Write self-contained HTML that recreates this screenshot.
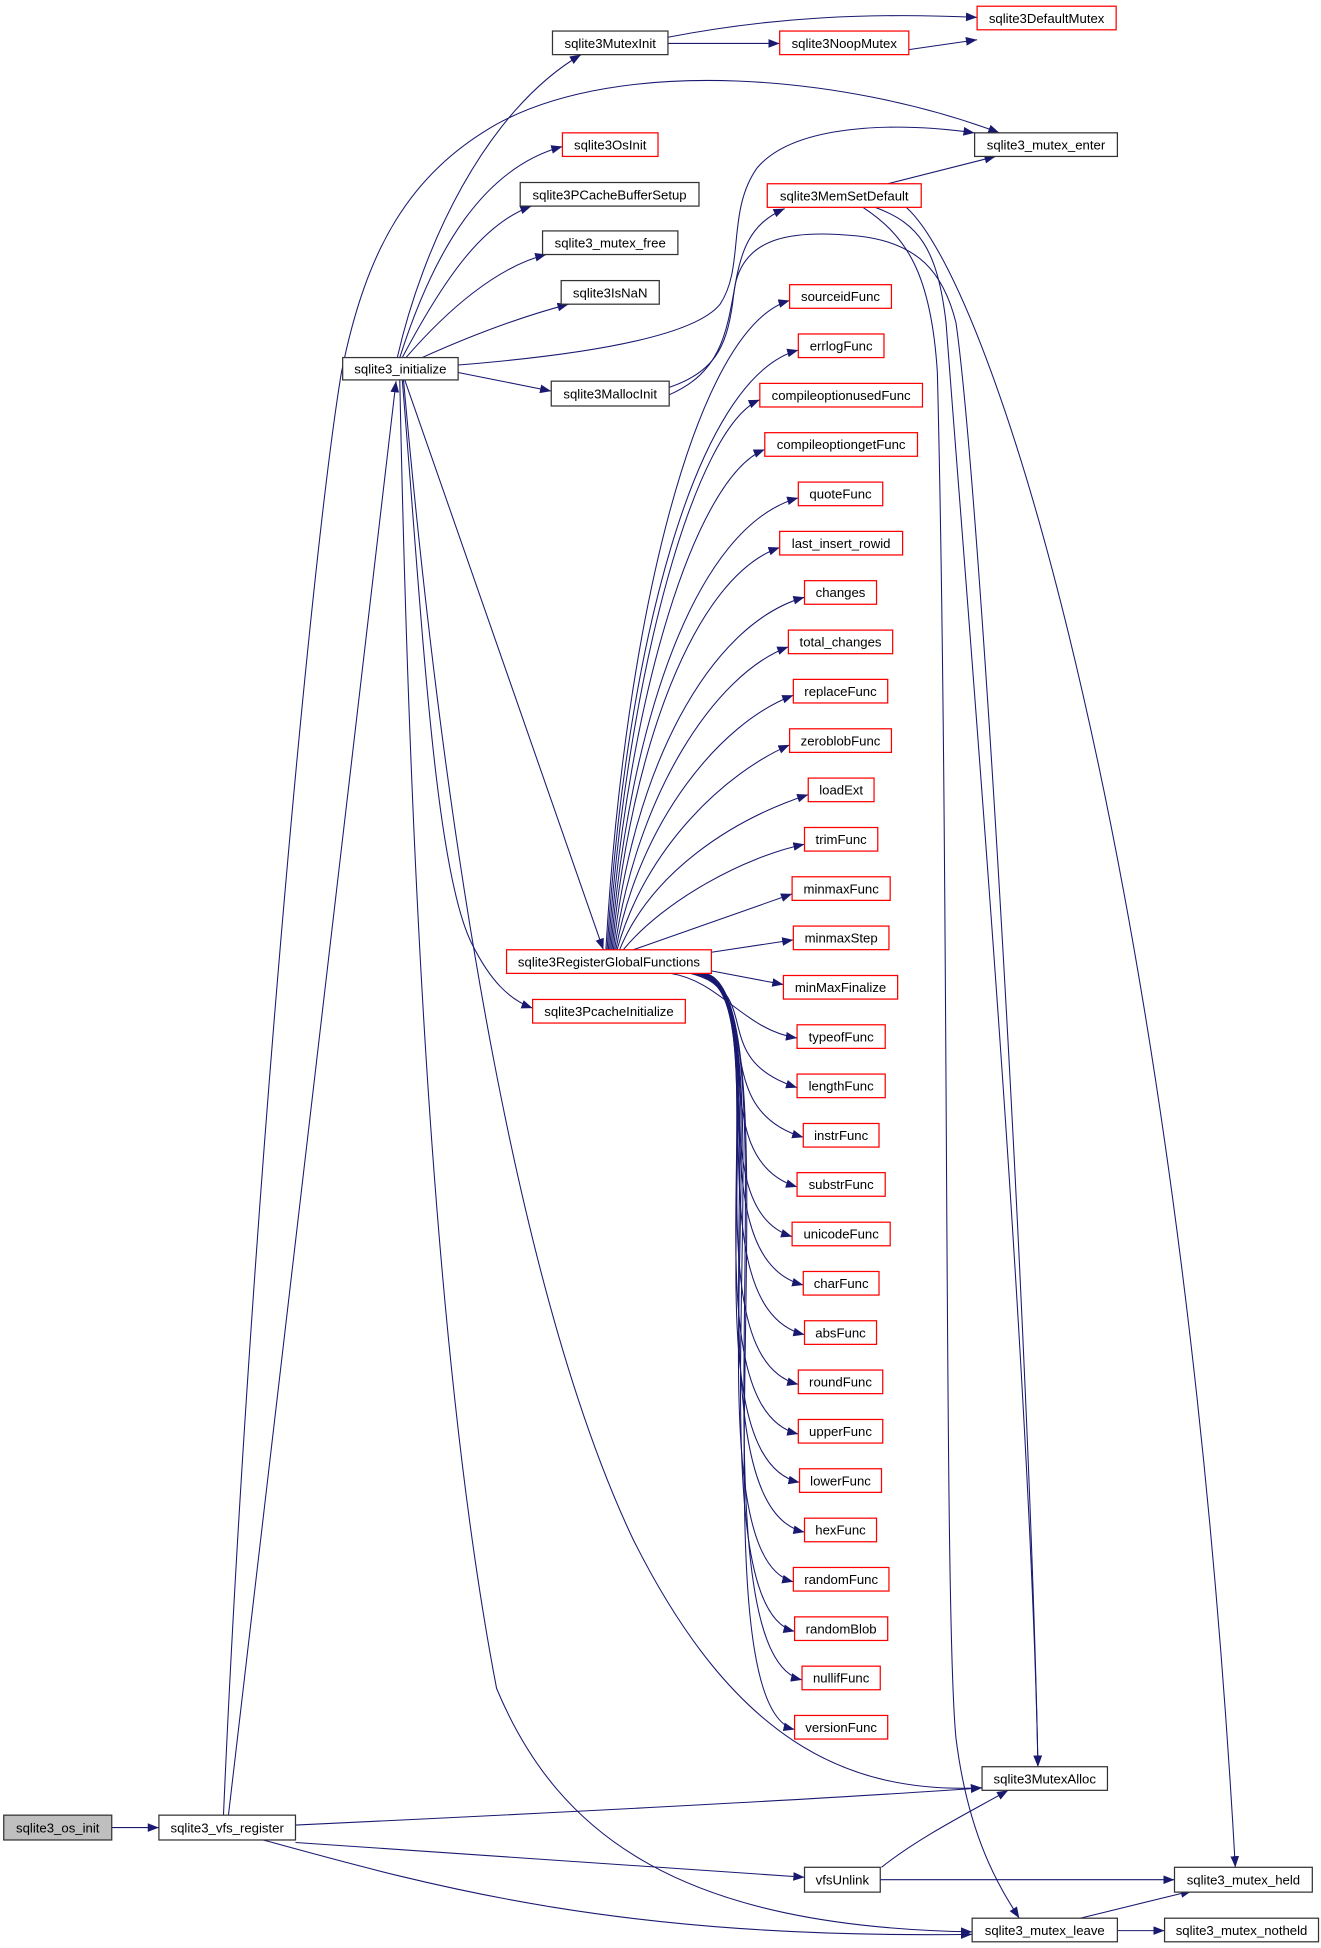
<!DOCTYPE html>
<html><head><meta charset="utf-8"><style>
html,body{margin:0;padding:0;background:#fff;}
svg{display:block;}
text{font-family:"Liberation Sans",Arial,sans-serif;font-size:10.6px;fill:#000;text-anchor:middle;}
.b{fill:#fff;stroke:#333;stroke-width:1;}
.r{fill:#fff;stroke:#f00;stroke-width:1;}
.g{fill:#bfbfbf;stroke:#333;stroke-width:1;}
.e{fill:none;stroke:#191970;stroke-width:0.85;marker-end:url(#a);}
</style></head><body>
<svg width="1321" height="1948" viewBox="0 0 1064 1569" preserveAspectRatio="none" xmlns="http://www.w3.org/2000/svg">
<defs><marker id="a" markerWidth="10" markerHeight="8" refX="9" refY="3.5" orient="auto" markerUnits="userSpaceOnUse"><path d="M0,0 L9,3.5 L0,7 z" fill="#191970"/></marker></defs>

<path class="e" d="M90,1472 L128,1472"/>
<path class="e" d="M184,1462 L319,307"/>
<path class="e" d="M180,1462 C200,1000 250,450 275,300 C295,200 330,140 400,100 C500,45 680,60 805,107"/>
<path class="e" d="M238,1470 C450,1460 650,1450 791,1440"/>
<path class="e" d="M238,1484 C400,1495 550,1505 648,1512"/>
<path class="e" d="M212,1482 C350,1520 500,1562 783,1558"/>

<path class="e" d="M320,288 C340,200 390,90 468,44"/>
<path class="e" d="M322,288 C350,200 390,135 453,118"/>
<path class="e" d="M324,288 C360,220 390,180 428,166"/>
<path class="e" d="M327,288 C360,250 400,215 440,205"/>
<path class="e" d="M340,288 C380,270 420,255 458,245"/>
<path class="e" d="M369,294 C480,285 560,270 580,245 C600,215 585,170 610,135 C640,100 720,98 785,107"/>
<path class="e" d="M369,300 L444,315"/>
<path class="e" d="M326,306 L486,765"/>
<path class="e" d="M324,306 C340,500 350,700 380,760 C395,790 410,805 429,812"/>
<path class="e" d="M325,306 C360,700 420,1050 510,1240 C590,1400 680,1445 791,1440"/>
<path class="e" d="M322,306 C330,700 350,1100 400,1360 C450,1480 550,1552 783,1556"/>

<path class="e" d="M538,30 C620,14 700,10 787,14"/>
<path class="e" d="M538,35 L628,35"/>
<path class="e" d="M732,40 L787,32"/>

<path class="e" d="M539,312 C575,300 585,280 590,245 C595,200 605,180 632,168"/>
<path class="e" d="M539,318 C580,300 585,270 592,230 C600,190 640,185 690,190 C740,195 760,220 770,260 C790,400 830,1100 836,1423"/>
<path class="e" d="M705,167 C740,180 755,200 762,260 C780,500 830,1100 836,1423"/>
<path class="e" d="M695,167 C730,190 750,220 755,300 C765,700 760,1300 770,1400 C780,1480 805,1520 821,1545"/>
<path class="e" d="M730,167 C800,230 950,700 995,1504"/>
<path class="e" d="M715,148 L802,126"/>

<path class="e" d="M709,1514 L946,1514"/>
<path class="e" d="M710,1504 C740,1480 780,1460 812,1442"/>
<path class="e" d="M870,1545 L960,1523"/>
<path class="e" d="M900,1555 L938,1555"/>

<path class="e" d="M488,765 C503,502 560,264 636,242"/>
<path class="e" d="M489,765 C504,522 560,304 643,282"/>
<path class="e" d="M490,765 C505,542 560,344 612,322"/>
<path class="e" d="M491,765 C506,562 560,384 616,362"/>
<path class="e" d="M492,765 C507,582 560,424 643,401"/>
<path class="e" d="M493,765 C508,602 560,464 628,441"/>
<path class="e" d="M494,765 C509,622 570,503 648,481"/>
<path class="e" d="M495,765 C512,642 575,543 635,521"/>
<path class="e" d="M496,765 C515,662 580,582 639,560"/>
<path class="e" d="M497,765 C520,682 585,622 636,600"/>
<path class="e" d="M499,765 C525,702 590,660 651,640"/>
<path class="e" d="M502,765 C535,725 600,690 648,680"/>
<path class="e" d="M510,765 L638,720"/>
<path class="e" d="M573,767 L639,757"/>
<path class="e" d="M573,782 L631,793"/>
<path class="e" d="M540,784 C580,790 600,830 642,836"/>
<path class="e" d="M556,784 C618,800 568,852 642,876"/>
<path class="e" d="M558,784 C620,800 566,892 647,916"/>
<path class="e" d="M560,784 C622,800 564,932 642,956"/>
<path class="e" d="M561,784 C624,800 562,972 638,996"/>
<path class="e" d="M562,784 C626,800 558,1012 647,1035"/>
<path class="e" d="M563,784 C628,800 554,1052 648,1075"/>
<path class="e" d="M564,784 C630,800 550,1092 643,1115"/>
<path class="e" d="M565,784 C632,800 546,1132 643,1155"/>
<path class="e" d="M566,784 C634,800 544,1172 644,1194"/>
<path class="e" d="M566,784 C636,800 546,1212 648,1234"/>
<path class="e" d="M567,784 C638,800 548,1252 639,1274"/>
<path class="e" d="M567,784 C640,800 550,1292 640,1314"/>
<path class="e" d="M568,784 C642,800 552,1332 646,1353"/>
<path class="e" d="M568,784 C644,800 554,1372 640,1393"/>

<rect class="g" x="3" y="1462" width="87" height="20"/><text x="46.5" y="1476">sqlite3_os_init</text>
<rect class="b" x="128" y="1462" width="110" height="20"/><text x="183" y="1476">sqlite3_vfs_register</text>
<rect class="b" x="276" y="288" width="93" height="18"/><text x="322.5" y="301">sqlite3_initialize</text>
<rect class="b" x="445" y="25" width="93" height="19"/><text x="491.5" y="38.5">sqlite3MutexInit</text>
<rect class="r" x="628" y="25" width="104" height="19"/><text x="680" y="38.5">sqlite3NoopMutex</text>
<rect class="r" x="787" y="5" width="112" height="19"/><text x="843" y="18.5">sqlite3DefaultMutex</text>
<rect class="b" x="785" y="107" width="115" height="19"/><text x="842.5" y="120.5">sqlite3_mutex_enter</text>
<rect class="r" x="453" y="107" width="77" height="19"/><text x="491.5" y="120.5">sqlite3OsInit</text>
<rect class="b" x="419" y="147" width="144" height="19"/><text x="491" y="160.5">sqlite3PCacheBufferSetup</text>
<rect class="b" x="437" y="186" width="109" height="19"/><text x="491.5" y="199.5">sqlite3_mutex_free</text>
<rect class="b" x="452" y="226" width="79" height="19"/><text x="491.5" y="239.5">sqlite3IsNaN</text>
<rect class="b" x="444" y="307" width="95" height="20"/><text x="491.5" y="321">sqlite3MallocInit</text>
<rect class="r" x="618" y="148" width="124" height="19"/><text x="680" y="161.5">sqlite3MemSetDefault</text>
<rect class="r" x="408" y="765" width="165" height="19"/><text x="490.5" y="778.5">sqlite3RegisterGlobalFunctions</text>
<rect class="r" x="429" y="805" width="123" height="19"/><text x="490.5" y="818.5">sqlite3PcacheInitialize</text>

<rect class="r" x="636" y="229.3" width="82" height="19"/><text x="677" y="242.6">sourceidFunc</text>
<rect class="r" x="643" y="269" width="69" height="19"/><text x="677.5" y="282.3">errlogFunc</text>
<rect class="r" x="612" y="308.8" width="131" height="19"/><text x="677.5" y="322.1">compileoptionusedFunc</text>
<rect class="r" x="616" y="348.5" width="123" height="19"/><text x="677.5" y="361.8">compileoptiongetFunc</text>
<rect class="r" x="643" y="388.3" width="68" height="19"/><text x="677" y="401.6">quoteFunc</text>
<rect class="r" x="628" y="428" width="99" height="19"/><text x="677.5" y="441.3">last_insert_rowid</text>
<rect class="r" x="648" y="467.7" width="58" height="19"/><text x="677" y="481">changes</text>
<rect class="r" x="635" y="507.5" width="84" height="19"/><text x="677" y="520.8">total_changes</text>
<rect class="r" x="639" y="547.2" width="76" height="19"/><text x="677" y="560.5">replaceFunc</text>
<rect class="r" x="636" y="587" width="82" height="19"/><text x="677" y="600.3">zeroblobFunc</text>
<rect class="r" x="651" y="626.7" width="53" height="19"/><text x="677.5" y="640">loadExt</text>
<rect class="r" x="648" y="666.5" width="59" height="19"/><text x="677.5" y="679.8">trimFunc</text>
<rect class="r" x="638" y="706.2" width="79" height="19"/><text x="677.5" y="719.5">minmaxFunc</text>
<rect class="r" x="639" y="745.9" width="77" height="19"/><text x="677.5" y="759.2">minmaxStep</text>
<rect class="r" x="631" y="785.7" width="92" height="19"/><text x="677" y="799">minMaxFinalize</text>
<rect class="r" x="642" y="825.4" width="71" height="19"/><text x="677.5" y="838.7">typeofFunc</text>
<rect class="r" x="642" y="865.1" width="71" height="19"/><text x="677.5" y="878.4">lengthFunc</text>
<rect class="r" x="647" y="904.9" width="61" height="19"/><text x="677.5" y="918.2">instrFunc</text>
<rect class="r" x="642" y="944.5" width="71" height="19"/><text x="677.5" y="957.8">substrFunc</text>
<rect class="r" x="638" y="984.4" width="79" height="19"/><text x="677.5" y="997.7">unicodeFunc</text>
<rect class="r" x="647" y="1024.1" width="61" height="19"/><text x="677.5" y="1037.4">charFunc</text>
<rect class="r" x="648" y="1063.8" width="58" height="19"/><text x="677" y="1077.1">absFunc</text>
<rect class="r" x="643" y="1103.5" width="68" height="19"/><text x="677" y="1116.8">roundFunc</text>
<rect class="r" x="643" y="1143.3" width="68" height="19"/><text x="677" y="1156.6">upperFunc</text>
<rect class="r" x="644" y="1183" width="66" height="19"/><text x="677" y="1196.3">lowerFunc</text>
<rect class="r" x="648" y="1222.8" width="58" height="19"/><text x="677" y="1236.1">hexFunc</text>
<rect class="r" x="639" y="1262.5" width="77" height="19"/><text x="677.5" y="1275.8">randomFunc</text>
<rect class="r" x="640" y="1302.3" width="75" height="19"/><text x="677.5" y="1315.6">randomBlob</text>
<rect class="r" x="646" y="1342" width="63" height="19"/><text x="677.5" y="1355.3">nullifFunc</text>
<rect class="r" x="640" y="1381.7" width="75" height="19"/><text x="677.5" y="1395">versionFunc</text>

<rect class="b" x="791" y="1423" width="101" height="19"/><text x="841.5" y="1436.5">sqlite3MutexAlloc</text>
<rect class="b" x="648" y="1504" width="61" height="20"/><text x="678.5" y="1518">vfsUnlink</text>
<rect class="b" x="946" y="1504" width="111" height="20"/><text x="1001.5" y="1518">sqlite3_mutex_held</text>
<rect class="b" x="783" y="1545" width="117" height="19"/><text x="841.5" y="1558.5">sqlite3_mutex_leave</text>
<rect class="b" x="938" y="1545" width="124" height="19"/><text x="1000" y="1558.5">sqlite3_mutex_notheld</text>
</svg>
</body></html>
